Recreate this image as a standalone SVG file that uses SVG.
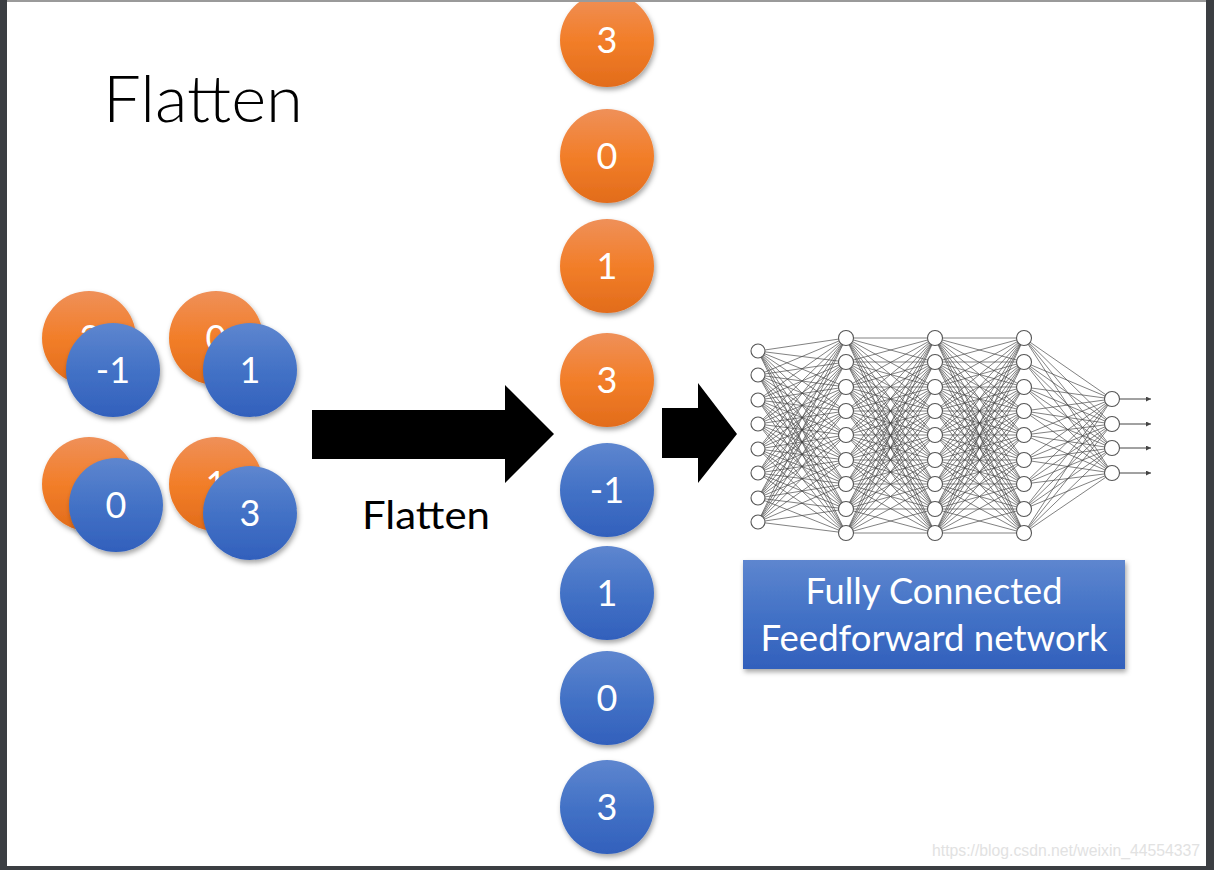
<svg xmlns="http://www.w3.org/2000/svg" xmlns:xlink="http://www.w3.org/1999/xlink" width="1214" height="870" viewBox="0 0 1214 870">
<defs>
<linearGradient id="gO" x1="0" y1="0" x2="0" y2="1">
<stop offset="0" stop-color="#EF9059"/><stop offset="0.5" stop-color="#F27E29"/><stop offset="1" stop-color="#E26C1B"/>
</linearGradient>
<linearGradient id="gB" x1="0" y1="0" x2="0" y2="1">
<stop offset="0" stop-color="#5E86CF"/><stop offset="0.5" stop-color="#4372C6"/><stop offset="1" stop-color="#3260BC"/>
</linearGradient>
<filter id="sh" x="-20%" y="-20%" width="150%" height="150%">
<feDropShadow dx="1.5" dy="3" stdDeviation="2.5" flood-color="#000" flood-opacity="0.35"/>
</filter>
<marker id="ah" viewBox="0 0 6 6" refX="6" refY="3" markerWidth="5" markerHeight="5" orient="auto" markerUnits="userSpaceOnUse">
<path d="M0 0L6 3L0 6z" fill="#444"/>
</marker>
<path id="mesh9" d="M846 338 935 338M846 338 935 362M846 338 935 387M846 338 935 411M846 338 935 435M846 338 935 460M846 338 935 484M846 338 935 509M846 338 935 533M846 362 935 338M846 362 935 362M846 362 935 387M846 362 935 411M846 362 935 435M846 362 935 460M846 362 935 484M846 362 935 509M846 362 935 533M846 387 935 338M846 387 935 362M846 387 935 387M846 387 935 411M846 387 935 435M846 387 935 460M846 387 935 484M846 387 935 509M846 387 935 533M846 411 935 338M846 411 935 362M846 411 935 387M846 411 935 411M846 411 935 435M846 411 935 460M846 411 935 484M846 411 935 509M846 411 935 533M846 435 935 338M846 435 935 362M846 435 935 387M846 435 935 411M846 435 935 435M846 435 935 460M846 435 935 484M846 435 935 509M846 435 935 533M846 460 935 338M846 460 935 362M846 460 935 387M846 460 935 411M846 460 935 435M846 460 935 460M846 460 935 484M846 460 935 509M846 460 935 533M846 484 935 338M846 484 935 362M846 484 935 387M846 484 935 411M846 484 935 435M846 484 935 460M846 484 935 484M846 484 935 509M846 484 935 533M846 509 935 338M846 509 935 362M846 509 935 387M846 509 935 411M846 509 935 435M846 509 935 460M846 509 935 484M846 509 935 509M846 509 935 533M846 533 935 338M846 533 935 362M846 533 935 387M846 533 935 411M846 533 935 435M846 533 935 460M846 533 935 484M846 533 935 509M846 533 935 533"/>
</defs>
<style>
.ob{fill:url(#gO);filter:url(#sh)}
.bb{fill:url(#gB);filter:url(#sh)}
.num{font-family:Lato,"Open Sans","Liberation Sans",sans-serif;font-size:36px;fill:#fff;text-anchor:middle}
.wire{fill:none;stroke:#444;stroke-width:0.8;stroke-opacity:0.85}
.nd{fill:#fff;stroke:#555;stroke-width:1.1}
.blk{fill:#000}
.lbl{font-family:Lato,"Open Sans","Liberation Sans",sans-serif;fill:#000}
</style>
<rect width="1214" height="870" fill="#fff"/>

<g id="title"><text class="lbl" x="103" y="122" font-size="66" font-weight="300" textLength="200" lengthAdjust="spacingAndGlyphs">Flatten</text></g>

<g id="matrix-1">
<circle class="ob" cx="89" cy="338" r="47"/>
<text class="num" x="90" y="351">3</text>
<circle class="bb" cx="113" cy="370" r="47"/>
<text class="num" x="113" y="383">-1</text>
</g>
<g id="matrix-2">
<circle class="ob" cx="216" cy="338" r="47"/>
<text class="num" x="216" y="351">0</text>
<circle class="bb" cx="250" cy="370" r="47"/>
<text class="num" x="250" y="383">1</text>
</g>
<g id="matrix-3">
<circle class="ob" cx="89" cy="484" r="47"/>
<circle class="bb" cx="116" cy="505" r="47"/>
<text class="num" x="116" y="518">0</text>
</g>
<g id="matrix-4">
<circle class="ob" cx="216" cy="484" r="47"/>
<text class="num" x="216" y="497">1</text>
<circle class="bb" cx="250" cy="513" r="47"/>
<text class="num" x="250" y="526">3</text>
</g>

<g id="connectors">
<path class="blk" d="M312 410H505V385L554 434L505 483V459H312Z"/>
<path class="blk" d="M662 408H698V383L737 434L698 483V458H662Z"/>
</g>

<g id="flatten-label"><text class="lbl" x="362" y="529" font-size="38" textLength="128" lengthAdjust="spacingAndGlyphs">Flatten</text></g>

<g id="col-1"><circle class="ob" cx="607" cy="40" r="47"/><text class="num" x="607" y="53">3</text></g>
<g id="col-2"><circle class="ob" cx="607" cy="156" r="47"/><text class="num" x="607" y="169">0</text></g>
<g id="col-3"><circle class="ob" cx="607" cy="266" r="47"/><text class="num" x="607" y="279">1</text></g>
<g id="col-4"><circle class="ob" cx="607" cy="380" r="47"/><text class="num" x="607" y="393">3</text></g>
<g id="col-5"><circle class="bb" cx="607" cy="490" r="47"/><text class="num" x="607" y="503">-1</text></g>
<g id="col-6"><circle class="bb" cx="607" cy="593" r="47"/><text class="num" x="607" y="606">1</text></g>
<g id="col-7"><circle class="bb" cx="607" cy="698" r="47"/><text class="num" x="607" y="711">0</text></g>
<g id="col-8"><circle class="bb" cx="607" cy="807" r="47"/><text class="num" x="607" y="820">3</text></g>

<g id="network">
<g class="wire">
<path d="M758 351 846 338M758 351 846 362M758 351 846 387M758 351 846 411M758 351 846 435M758 351 846 460M758 351 846 484M758 351 846 509M758 351 846 533M758 375 846 338M758 375 846 362M758 375 846 387M758 375 846 411M758 375 846 435M758 375 846 460M758 375 846 484M758 375 846 509M758 375 846 533M758 400 846 338M758 400 846 362M758 400 846 387M758 400 846 411M758 400 846 435M758 400 846 460M758 400 846 484M758 400 846 509M758 400 846 533M758 424 846 338M758 424 846 362M758 424 846 387M758 424 846 411M758 424 846 435M758 424 846 460M758 424 846 484M758 424 846 509M758 424 846 533M758 449 846 338M758 449 846 362M758 449 846 387M758 449 846 411M758 449 846 435M758 449 846 460M758 449 846 484M758 449 846 509M758 449 846 533M758 473 846 338M758 473 846 362M758 473 846 387M758 473 846 411M758 473 846 435M758 473 846 460M758 473 846 484M758 473 846 509M758 473 846 533M758 498 846 338M758 498 846 362M758 498 846 387M758 498 846 411M758 498 846 435M758 498 846 460M758 498 846 484M758 498 846 509M758 498 846 533M758 522 846 338M758 522 846 362M758 522 846 387M758 522 846 411M758 522 846 435M758 522 846 460M758 522 846 484M758 522 846 509M758 522 846 533"/>
<use xlink:href="#mesh9"/>
<use xlink:href="#mesh9" transform="translate(89 0)"/>
<path d="M1024 338 1112 399M1024 338 1112 424M1024 338 1112 448M1024 338 1112 473M1024 362 1112 399M1024 362 1112 424M1024 362 1112 448M1024 362 1112 473M1024 387 1112 399M1024 387 1112 424M1024 387 1112 448M1024 387 1112 473M1024 411 1112 399M1024 411 1112 424M1024 411 1112 448M1024 411 1112 473M1024 435 1112 399M1024 435 1112 424M1024 435 1112 448M1024 435 1112 473M1024 460 1112 399M1024 460 1112 424M1024 460 1112 448M1024 460 1112 473M1024 484 1112 399M1024 484 1112 424M1024 484 1112 448M1024 484 1112 473M1024 509 1112 399M1024 509 1112 424M1024 509 1112 448M1024 509 1112 473M1024 533 1112 399M1024 533 1112 424M1024 533 1112 448M1024 533 1112 473"/>
</g>
<g stroke="#444" stroke-width="1" marker-end="url(#ah)">
<line x1="1119" y1="399" x2="1151" y2="399"/>
<line x1="1119" y1="424" x2="1151" y2="424"/>
<line x1="1119" y1="448" x2="1151" y2="448"/>
<line x1="1119" y1="473" x2="1151" y2="473"/>
</g>
<g class="nd">
<circle cx="758" cy="351" r="7"/><circle cx="758" cy="375" r="7"/><circle cx="758" cy="400" r="7"/><circle cx="758" cy="424" r="7"/><circle cx="758" cy="449" r="7"/><circle cx="758" cy="473" r="7"/><circle cx="758" cy="498" r="7"/><circle cx="758" cy="522" r="7"/>
<circle cx="846" cy="338" r="7.5"/><circle cx="846" cy="362" r="7.5"/><circle cx="846" cy="387" r="7.5"/><circle cx="846" cy="411" r="7.5"/><circle cx="846" cy="435" r="7.5"/><circle cx="846" cy="460" r="7.5"/><circle cx="846" cy="484" r="7.5"/><circle cx="846" cy="509" r="7.5"/><circle cx="846" cy="533" r="7.5"/>
<circle cx="935" cy="338" r="7.5"/><circle cx="935" cy="362" r="7.5"/><circle cx="935" cy="387" r="7.5"/><circle cx="935" cy="411" r="7.5"/><circle cx="935" cy="435" r="7.5"/><circle cx="935" cy="460" r="7.5"/><circle cx="935" cy="484" r="7.5"/><circle cx="935" cy="509" r="7.5"/><circle cx="935" cy="533" r="7.5"/>
<circle cx="1024" cy="338" r="7.5"/><circle cx="1024" cy="362" r="7.5"/><circle cx="1024" cy="387" r="7.5"/><circle cx="1024" cy="411" r="7.5"/><circle cx="1024" cy="435" r="7.5"/><circle cx="1024" cy="460" r="7.5"/><circle cx="1024" cy="484" r="7.5"/><circle cx="1024" cy="509" r="7.5"/><circle cx="1024" cy="533" r="7.5"/>
<circle cx="1112" cy="399" r="7.5"/><circle cx="1112" cy="424" r="7.5"/><circle cx="1112" cy="448" r="7.5"/><circle cx="1112" cy="473" r="7.5"/>
</g>
</g>

<g id="fc-box">
<rect x="743" y="560" width="382" height="109" fill="url(#gB)" filter="url(#sh)"/>
<text x="934" y="604" font-family="Lato,'Open Sans','Liberation Sans',sans-serif" font-size="37" fill="#fff" text-anchor="middle" textLength="257" lengthAdjust="spacingAndGlyphs">Fully Connected</text>
<text x="934" y="651" font-family="Lato,'Open Sans','Liberation Sans',sans-serif" font-size="37" fill="#fff" text-anchor="middle" textLength="347" lengthAdjust="spacingAndGlyphs">Feedforward network</text>
</g>

<g id="watermark"><text x="932" y="856" font-family="'Liberation Sans',Arial,sans-serif" font-size="16" fill="#e2e2e2" textLength="268" lengthAdjust="spacingAndGlyphs">https://blog.csdn.net/weixin_44554337</text></g>

<g id="frame">
<rect x="0" y="0" width="1214" height="2" fill="#9a9a9a"/>
<rect x="0" y="0" width="7" height="870" fill="#3b3e42"/>
<rect x="1206" y="0" width="8" height="870" fill="#3b3e42"/>
<rect x="0" y="866" width="1214" height="4" fill="#3b3e42"/>
</g>
</svg>
